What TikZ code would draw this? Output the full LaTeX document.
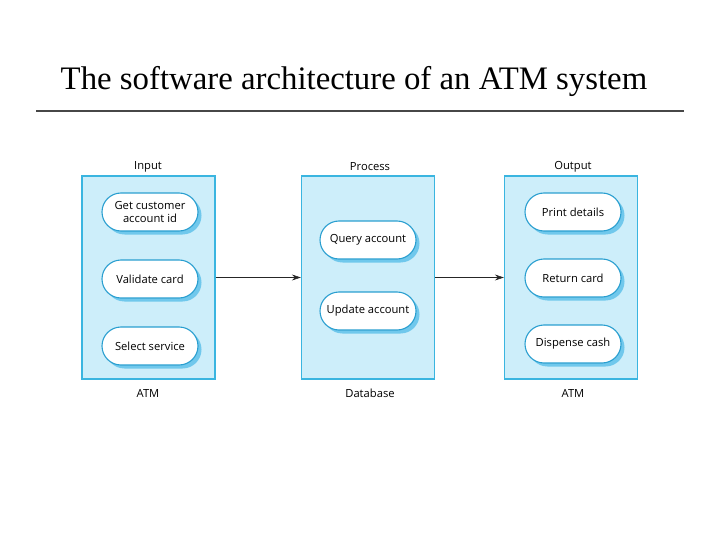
\documentclass[tikz,border=0pt]{standalone}
\usepackage{fontspec}
\setmainfont{Liberation Serif}
\newfontfamily\labelfont{Open Sans}
\usetikzlibrary{shadows,arrows.meta}
\definecolor{boxfill}{HTML}{CDEEFA}
\definecolor{boxline}{HTML}{3AB5E0}
\definecolor{pillline}{HTML}{2A9FD0}
\definecolor{pillshade}{HTML}{70C8EC}
\begin{document}
\begin{tikzpicture}[x=1pt,y=-1pt,
    layer/.style={draw=boxline,line width=1.2pt,fill=boxfill,minimum width=133pt,minimum height=203pt},
    task/.style={draw=pillline,line width=1.1pt,fill=white,rounded corners=19pt,minimum width=96pt,minimum height=38pt,
      align=center,font=\labelfont\fontsize{11.2}{13}\selectfont,inner sep=1pt,
      drop shadow={shadow xshift=3.5pt,shadow yshift=-3.5pt,fill=pillshade,opacity=1}},
    tag/.style={font=\labelfont\fontsize{11.2}{13}\selectfont}]
    \useasboundingbox (0,0) rectangle (720,540);
    \node (title) at (354,81) {\fontsize{32.8}{36}\selectfont The software architecture of an ATM system};
    \draw[line width=2pt,black!72] (36,111) -- (684,111);
    % layers
    \node[layer] (input) at (148.5,277.5) {};
    \node[layer] (process) at (368,277.5) {};
    \node[layer] (output) at (571,277.5) {};
    \node[tag] (inputtop) at (148,167) {Input};
    \node[tag] (processtop) at (370,167) {Process};
    \node[tag] (outputtop) at (573,167) {Output};
    \node[tag] (inputbot) at (148,393) {ATM};
    \node[tag] (processbot) at (370,393) {Database};
    \node[tag] (outputbot) at (573,393) {ATM};
    % tasks
    \node[task] (getid) at (150,212) {Get customer\\account id};
    \node[task] (validate) at (150,279) {Validate card};
    \node[task] (select) at (150,346) {Select service};
    \node[task] (query) at (368,240) {Query account};
    \node[task] (update) at (368,311) {Update account};
    \node[task] (print) at (573,212) {Print details};
    \node[task] (return) at (573,278) {Return card};
    \node[task] (dispense) at (573,344) {Dispense cash};
    % flow
    \draw[-{Stealth[length=9pt,width=6pt]},semithick,black!85] (input.east) -- (process.west);
    \draw[-{Stealth[length=9pt,width=6pt]},semithick,black!85] (process.east) -- (output.west);
\end{tikzpicture}
\end{document}
